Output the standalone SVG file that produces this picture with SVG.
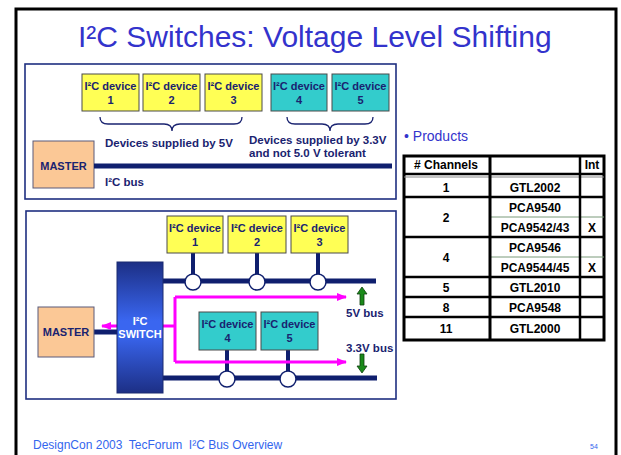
<svg xmlns="http://www.w3.org/2000/svg" width="621" height="455" viewBox="0 0 621 455">
<defs>
<style>
.frame{fill:none;stroke:#000;stroke-width:3}
.panel{fill:#fff;stroke:#1f2f80;stroke-width:1.6}
.dev{stroke:#4a4a4a;stroke-width:1}
.y{fill:#ffff55}
.t{fill:#33cccc}
.dt{font-family:"Liberation Sans",Arial,sans-serif;font-weight:bold;font-size:11px;fill:#1a2370;text-anchor:middle}
.lb{font-family:"Liberation Sans",Arial,sans-serif;font-weight:bold;font-size:11.5px;fill:#1a2370}
.bus{stroke:#0f1f6e;stroke-width:5;fill:none}
.stub{stroke:#0f1f6e;stroke-width:4;fill:none}
.tap{fill:#fff;stroke:#0f1f6e;stroke-width:1.5}
.mag{stroke:#ff00ff;stroke-width:3;fill:none}
.master{fill:#fbc896;stroke:#5a5a7a;stroke-width:1}
.tb{font-family:"Liberation Sans",Arial,sans-serif;font-weight:bold;font-size:12px;fill:#000;text-anchor:middle}
.tl{stroke:#000;stroke-width:2.5}
.tt{stroke:#000;stroke-width:1.5}
.tg{stroke:#7a9a7a;stroke-width:1}
</style>
<linearGradient id="sw" x1="0" y1="0" x2="0" y2="1">
<stop offset="0" stop-color="#1c2f85"/>
<stop offset="0.45" stop-color="#3a66f0"/>
<stop offset="0.55" stop-color="#3a66f0"/>
<stop offset="1" stop-color="#1c2f85"/>
</linearGradient>
<marker id="mh" viewBox="0 0 10 8" refX="9" refY="4" markerWidth="10" markerHeight="8" markerUnits="userSpaceOnUse" orient="auto">
<path d="M0,0 L10,4 L0,8 Z" fill="#ff00ff"/>
</marker>
</defs>
<rect width="621" height="455" fill="#fff"/>
<path class="frame" d="M16,455 V9 H616 V455"/>
<text x="78" y="47" font-family="'Liberation Sans',Arial,sans-serif" font-size="30" fill="#3333cc">I²C Switches: Voltage Level Shifting</text>

<!-- top panel -->
<g id="panel-top">
<rect class="panel" x="25" y="64" width="371" height="135"/>
</g>
<g id="top-dev1"><rect class="dev y" x="82" y="74" width="57" height="37"/><text class="dt" x="110.5" y="90">I²C device</text><text class="dt" x="110.5" y="104">1</text></g>
<g id="top-dev2"><rect class="dev y" x="143" y="74" width="57" height="37"/><text class="dt" x="171.5" y="90">I²C device</text><text class="dt" x="171.5" y="104">2</text></g>
<g id="top-dev3"><rect class="dev y" x="205" y="74" width="57" height="37"/><text class="dt" x="233.5" y="90">I²C device</text><text class="dt" x="233.5" y="104">3</text></g>
<g id="top-dev4"><rect class="dev t" x="271" y="74" width="56" height="37"/><text class="dt" x="299" y="90">I²C device</text><text class="dt" x="299" y="104">4</text></g>
<g id="top-dev5"><rect class="dev t" x="332" y="74" width="57" height="37"/><text class="dt" x="360.5" y="90">I²C device</text><text class="dt" x="360.5" y="104">5</text></g>
<g id="top-master"><rect class="master" x="33" y="141" width="61" height="47"/><text class="dt" x="63.5" y="170" font-size="12">MASTER</text></g>
<g id="top-connectors">
<path d="M100,117 Q100,124 108,124 H164 Q172,124 172,131 Q172,124 180,124 H234 Q242,124 242,117" fill="none" stroke="#1a2370" stroke-width="1.3"/>
<path d="M287,117 Q287,124 295,124 H322 Q330,124 330,131 Q330,124 338,124 H365 Q373,124 373,117" fill="none" stroke="#1a2370" stroke-width="1.3"/>
<line class="bus" x1="94" y1="166" x2="392" y2="166"/>
</g>
<text class="lb" x="105" y="147">Devices supplied by 5V</text>
<text class="lb" x="249" y="144">Devices supplied by 3.3V</text>
<text class="lb" x="249" y="157">and not 5.0 V tolerant</text>
<text class="lb" x="105" y="186">I²C bus</text>

<!-- bottom panel -->
<g id="panel-bottom">
<rect class="panel" x="26" y="211" width="370" height="188"/>
</g>
<g id="bottom-connectors">
<line class="bus" x1="163" y1="281" x2="376" y2="281"/>
<line class="bus" x1="163" y1="378" x2="377" y2="378"/>
<line class="bus" x1="94" y1="332" x2="117" y2="332"/>
<line class="stub" x1="193" y1="253" x2="193" y2="280"/>
<line class="stub" x1="257" y1="253" x2="257" y2="280"/>
<line class="stub" x1="318" y1="253" x2="318" y2="280"/>
<line class="stub" x1="227" y1="350" x2="227" y2="378"/>
<line class="stub" x1="288" y1="350" x2="288" y2="378"/>
<circle class="tap" cx="193" cy="282" r="8"/>
<circle class="tap" cx="257" cy="282" r="8"/>
<circle class="tap" cx="318" cy="282" r="8"/>
<circle class="tap" cx="227" cy="379" r="8"/>
<circle class="tap" cx="288" cy="379" r="8"/>
<path class="mag" d="M175,297 H346" marker-end="url(#mh)"/>
<path class="mag" d="M175,362 H346" marker-end="url(#mh)"/>
<path class="mag" d="M175,297 V362"/>
<path class="mag" d="M175,326 H102" marker-end="url(#mh)"/>
<path d="M360,305 V294 H357 L362,287 L367,294 H364 V305 Z" fill="#1a8a1a" stroke="#0f3f0f" stroke-width="0.8"/>
<path d="M360,354 V366 H357 L362,373 L367,366 H364 V354 Z" fill="#1a8a1a" stroke="#0f3f0f" stroke-width="0.8"/>
</g>
<g id="bot-dev1"><rect class="dev y" x="167" y="216" width="56" height="37"/><text class="dt" x="195" y="232">I²C device</text><text class="dt" x="195" y="246">1</text></g>
<g id="bot-dev2"><rect class="dev y" x="228" y="216" width="58" height="37"/><text class="dt" x="257" y="232">I²C device</text><text class="dt" x="257" y="246">2</text></g>
<g id="bot-dev3"><rect class="dev y" x="291" y="216" width="57" height="37"/><text class="dt" x="319.5" y="232">I²C device</text><text class="dt" x="319.5" y="246">3</text></g>
<g id="bot-dev4"><rect class="dev t" x="199" y="312" width="57" height="38"/><text class="dt" x="227.5" y="328">I²C device</text><text class="dt" x="227.5" y="342">4</text></g>
<g id="bot-dev5"><rect class="dev t" x="261" y="312" width="57" height="38"/><text class="dt" x="289.5" y="328">I²C device</text><text class="dt" x="289.5" y="342">5</text></g>
<g id="bot-master"><rect class="master" x="38" y="307" width="56" height="50"/><text class="dt" x="66" y="336" font-size="12">MASTER</text></g>
<g id="switch"><rect x="117" y="262" width="46" height="131" fill="url(#sw)" stroke="#1a2a70" stroke-width="1"/>
<text class="dt" x="140" y="325" fill="#fff" style="fill:#fff" font-size="12">I²C</text>
<text class="dt" x="140" y="338" style="fill:#fff" font-size="12">SWITCH</text></g>
<text class="lb" x="346" y="317">5V bus</text>
<text class="lb" x="346" y="352">3.3V bus</text>

<!-- products table -->
<text x="404" y="141" font-family="'Liberation Sans',Arial,sans-serif" font-size="14" fill="#3333cc">• Products</text>
<g id="table">
<rect x="404" y="156" width="200" height="184" fill="#fff" stroke="#000" stroke-width="3"/>
<line class="tl" x1="404" y1="174" x2="604" y2="174"/>
<line x1="404" y1="177" x2="604" y2="177" stroke="#888" stroke-width="1.2"/>
<line class="tl" x1="404" y1="197" x2="604" y2="197"/>
<line class="tl" x1="404" y1="237" x2="604" y2="237"/>
<line class="tl" x1="404" y1="277" x2="604" y2="277"/>
<line class="tl" x1="404" y1="297" x2="604" y2="297"/>
<line class="tl" x1="404" y1="317" x2="604" y2="317"/>
<line class="tg" x1="490" y1="217" x2="604" y2="217"/>
<line class="tg" x1="490" y1="257" x2="604" y2="257"/>
<line x1="490" y1="156" x2="490" y2="340" stroke="#000" stroke-width="3"/>
<line class="tl" x1="580" y1="156" x2="580" y2="340"/>
<text class="tb" x="446" y="169">#&#160;Channels</text>
<text class="tb" x="592" y="169">Int</text>
<text class="tb" x="446" y="192">1</text><text class="tb" x="535" y="192">GTL2002</text>
<text class="tb" x="446" y="222">2</text><text class="tb" x="535" y="212">PCA9540</text><text class="tb" x="535" y="232">PCA9542/43</text><text class="tb" x="592" y="232">X</text>
<text class="tb" x="446" y="262">4</text><text class="tb" x="535" y="252">PCA9546</text><text class="tb" x="535" y="272">PCA9544/45</text><text class="tb" x="592" y="272">X</text>
<text class="tb" x="446" y="292">5</text><text class="tb" x="535" y="292">GTL2010</text>
<text class="tb" x="446" y="312">8</text><text class="tb" x="535" y="312">PCA9548</text>
<text class="tb" x="446" y="333">11</text><text class="tb" x="535" y="333">GTL2000</text>
</g>
<text x="33" y="449" font-family="'Liberation Sans',Arial,sans-serif" font-size="12" fill="#3366ee" xml:space="preserve">DesignCon 2003  TecForum  I²C Bus Overview</text>
<text x="590" y="449" font-family="'Liberation Sans',Arial,sans-serif" font-size="7" fill="#3366ee">54</text>
</svg>
